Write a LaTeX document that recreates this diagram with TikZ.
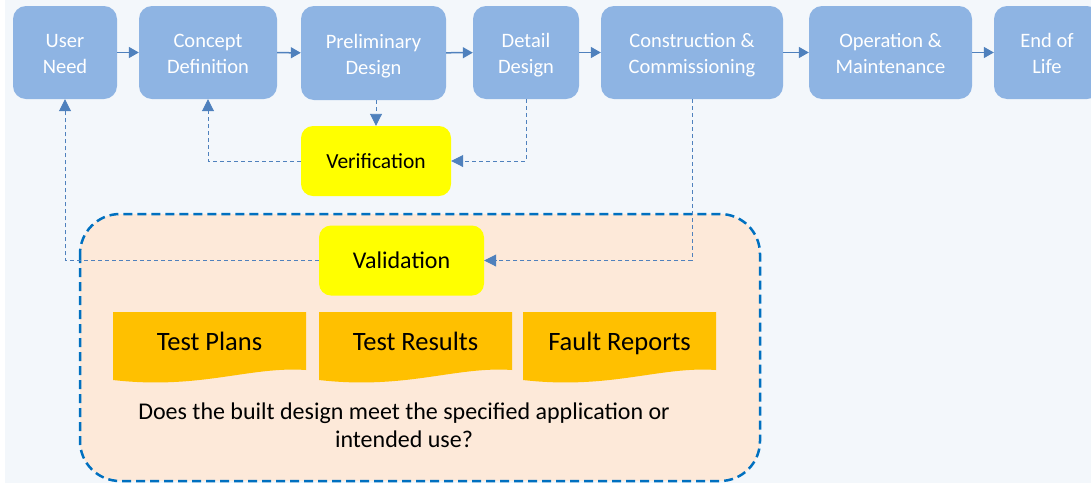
\documentclass[tikz,border=0pt]{standalone}
\usepackage{fontspec}
\setmainfont{Carlito}
\usepackage{tikz}
\usetikzlibrary{arrows.meta}

\definecolor{bgblue}{RGB}{243,247,251}
\definecolor{stageblue}{RGB}{142,180,227}
\definecolor{arrowblue}{RGB}{79,129,189}
\definecolor{framblue}{RGB}{0,112,192}
\definecolor{peach}{RGB}{253,233,217}
\definecolor{docorange}{RGB}{255,192,0}
\definecolor{checkyellow}{RGB}{255,255,0}

% fixed line heights for the two-line stage labels
\newcommand{\topline}{\rule{0pt}{22pt}}
\newcommand{\botline}{\rule[-6pt]{0pt}{6pt}}

\begin{document}
\begin{tikzpicture}[x=1pt,y=-1pt,
	stage/.style={shape=rectangle,rounded corners=13pt,fill=stageblue,text=white,
		align=center,minimum height=93pt,font=\fontsize{20.5}{26}\selectfont},
	check/.style={shape=rectangle,rounded corners=12pt,fill=checkyellow,text=black,
		minimum height=70pt},
	flow/.style={-{Triangle[length=10pt,width=11pt]},arrowblue,line width=1.5pt},
	back/.style={-{Triangle[length=12pt,width=12pt]},arrowblue,line width=0.9pt,
		dash pattern=on 4pt off 3pt},
	doctext/.style={font=\fontsize{26.5}{30}\selectfont,text height=18pt,text depth=6pt}]

	\useasboundingbox (0,0) rectangle (1091,483);
	\fill[white] (0,0) rectangle (1091,483);
	\fill[bgblue] (5,0) rectangle (1091,483);

	% validation area
	\draw[fill=peach,draw=framblue,line width=2.5pt,dash pattern=on 9pt off 5pt,
		rounded corners=40pt] (80,214) rectangle (760,481);

	% life cycle stages
	\node[stage,minimum width=104pt] (need)    at (65, 52.5)    {\topline User\\Need\botline};
	\node[stage,minimum width=138pt] (concept) at (208, 52.5)   {\topline Concept\\Definition\botline};
	\node[stage,minimum width=145pt,minimum height=94pt] (prelim) at (373.5, 53) {\topline Preliminary\\Design\botline};
	\node[stage,minimum width=106pt] (detail)  at (526, 52.5)   {\topline Detail\\Design\botline};
	\node[stage,minimum width=182pt] (constr)  at (692, 52.5)   {\topline Construction \&\\Commissioning\botline};
	\node[stage,minimum width=163pt] (oper)    at (890.5, 52.5) {\topline Operation \&\\Maintenance\botline};
	\node[stage,minimum width=106pt] (eol)     at (1047, 52.5)  {\topline End of\\Life\botline};

	\path[flow] (need) edge (concept);
	\path[flow] (concept) edge (prelim);
	\path[flow] (prelim) edge (detail);
	\path[flow] (detail) edge (constr);
	\path[flow] (constr) edge (oper);
	\path[flow] (oper) edge (eol);

	% checks
	\node[check,minimum width=150pt,font=\fontsize{21.5}{25}\selectfont] (verif) at (376, 161)   {Verification};
	\node[check,minimum width=165pt,font=\fontsize{24}{28}\selectfont] (valid) at (401.5, 260.5) {Validation};

	\draw[back] (verif.north |- prelim.south) -- (verif.north);
	\draw[back] (detail.south) |- (verif.east);
	\draw[back] (verif.west) -| (concept.south);
	\draw[back] (constr.south) |- (valid.east);
	\draw[back] (valid.west) -| (need.south);

	% documents
	\fill[docorange] (113,312) -- (306,312) -- (306,370)
		.. controls (250,366) and (200,390) .. (113,380) -- cycle;
	\fill[docorange] (319,312) -- (512,312) -- (512,370)
		.. controls (456,366) and (406,390) .. (319,380) -- cycle;
	\fill[docorange] (523,312) -- (716,312) -- (716,370)
		.. controls (660,366) and (610,390) .. (523,380) -- cycle;
	\node[doctext] (plans)   at (209.5, 344) {Test Plans};
	\node[doctext] (results) at (415.5, 344) {Test Results};
	\node[doctext] (faults)  at (619.5, 344) {Fault Reports};

	\node[align=center,font=\fontsize{24}{28}\selectfont] (question) at (404, 425)
		{Does the built design meet the specified application or\\intended use?};

\end{tikzpicture}
\end{document}
